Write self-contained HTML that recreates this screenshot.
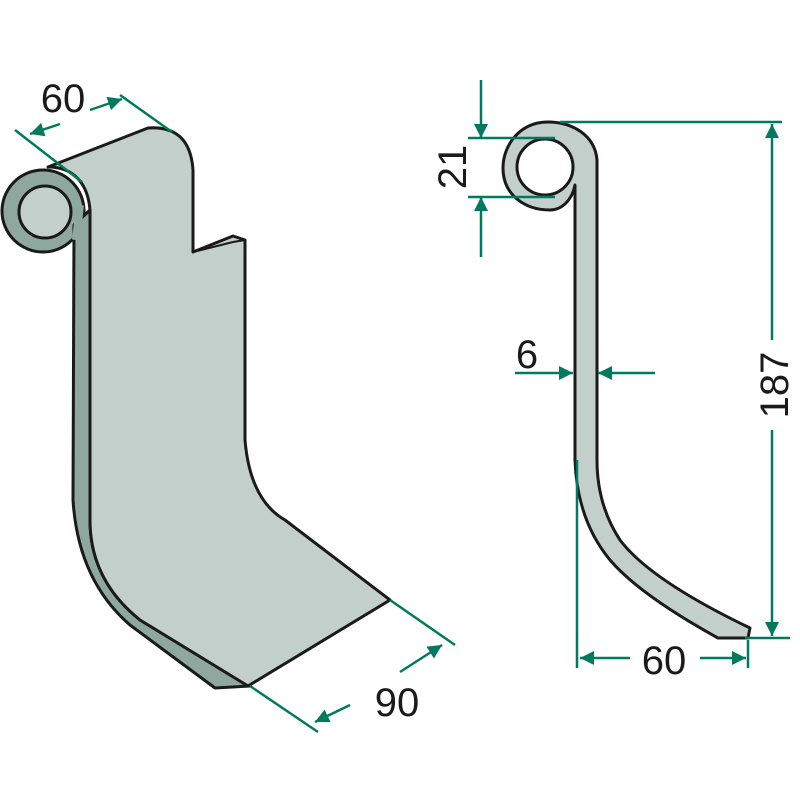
<!DOCTYPE html><html><head><style>body{margin:0;background:#fff}svg{display:block}</style></head><body>
<svg width="800" height="800" viewBox="0 0 800 800" xmlns="http://www.w3.org/2000/svg">
<defs>
<marker id="b" viewBox="0 0 10 10" refX="10" refY="5" markerWidth="22" markerHeight="14" orient="auto" markerUnits="userSpaceOnUse"><path d="M0,0L10,5L0,10z" fill="#007a5e"/></marker></defs>
<g stroke="#1a1a1a" stroke-width="3" stroke-linejoin="round">
<circle cx="43" cy="211" r="41" fill="#8fa89f"/>
<path d="M74,225 L73,500 Q78,580 130,625 L215,688 L250,686 L140,620 Q90,580 90,520 L90,210 Z" fill="#8fa89f"/>
<path d="M80,205 L76,240" stroke="#8fa89f" stroke-width="8"/>
<circle cx="45" cy="212" r="26" fill="#c3cfcb"/>
<path d="M48,167 L148,128 Q190,125 193,170 L193,252 L233,236 L245,240 L245,440 Q250,500 285,520 L390,600 L248,686 L140,620 Q90,580 90,520 L90,210 C88,185 75,167 48,167 Z" fill="#c3cfcb"/>
<path d="M193,252 L233,242 L245,240" fill="none" stroke-width="2"/>
<path d="M575,185 L575,460 Q577,520 610,560 Q640,595 718,638 L748,638 L750,628 Q650,580 620,540 Q597,505 597,460 L597,160 C595,135 572,122 548,122 C520,122 503,145 503,168 C503,195 525,210 550,210 C562,210 572,200 575,185 Z" fill="#c3cfcb"/>
<circle cx="545" cy="167" r="28" fill="#fff"/>
</g>
<g stroke="#007a5e" stroke-width="2.5" fill="none">
<line x1="15" y1="130" x2="82" y2="182"/><line x1="120" y1="95" x2="172" y2="132"/>
<line x1="60" y1="124" x2="30" y2="134" marker-end="url(#b)"/><line x1="90" y1="110" x2="122" y2="99" marker-end="url(#b)"/>
<line x1="390" y1="600" x2="455" y2="645"/><line x1="250" y1="686" x2="318" y2="732"/>
<line x1="350" y1="705" x2="315" y2="722" marker-end="url(#b)"/><line x1="400" y1="672" x2="442" y2="645" marker-end="url(#b)"/>
<line x1="468" y1="138" x2="555" y2="138"/><line x1="468" y1="197" x2="555" y2="197"/><line x1="560" y1="122" x2="782" y2="122"/>
<line x1="481" y1="80" x2="481" y2="138" marker-end="url(#b)"/><line x1="481" y1="257" x2="481" y2="197" marker-end="url(#b)"/>
<line x1="772" y1="340" x2="772" y2="124" marker-end="url(#b)"/><line x1="772" y1="430" x2="772" y2="636" marker-end="url(#b)"/>
<line x1="745" y1="638" x2="790" y2="638"/>
<line x1="515" y1="373" x2="573" y2="373" marker-end="url(#b)"/><line x1="655" y1="373" x2="598" y2="373" marker-end="url(#b)"/>
<line x1="577" y1="460" x2="577" y2="668"/><line x1="748" y1="640" x2="748" y2="668"/>
<line x1="630" y1="658" x2="580" y2="658" marker-end="url(#b)"/><line x1="700" y1="658" x2="746" y2="658" marker-end="url(#b)"/>
</g>
<g font-family="Liberation Sans, sans-serif" font-size="40" fill="#1a1a1a" text-anchor="middle">
<text x="63" y="112">60</text>
<text x="397" y="716">90</text>
<text x="527" y="368">6</text>
<text x="664" y="674">60</text>
<text transform="translate(466,167) rotate(-90)">21</text>
<text transform="translate(788,385) rotate(-90)">187</text>
</g>
</svg></body></html>
